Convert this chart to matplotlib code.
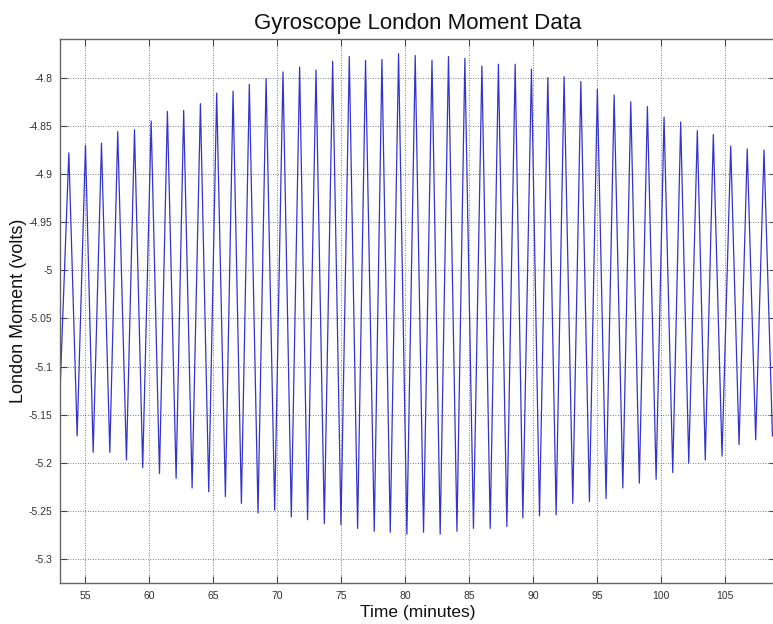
import matplotlib
matplotlib.use("Agg")
import matplotlib.pyplot as plt
import numpy as np

# Times (minutes) and voltages of each oscillation crest
peak_time = [53.73, 55.03, 56.28, 57.55, 58.86, 60.16, 61.43, 62.70, 64.01, 65.28,
             66.56, 67.83, 69.14, 70.46, 71.76, 73.04, 74.34, 75.64, 76.91, 78.19,
             79.49, 80.79, 82.10, 83.39, 84.67, 86.00, 87.29, 88.60, 89.87, 91.15,
             92.42, 93.73, 95.02, 96.33, 97.63, 98.93, 100.23, 101.53, 102.83, 104.08,
             105.44, 106.73, 108.04]
peak_volts = [-4.878, -4.870, -4.868, -4.856, -4.854, -4.845, -4.835, -4.834, -4.827, -4.816,
              -4.814, -4.807, -4.801, -4.794, -4.789, -4.792, -4.783, -4.778, -4.782, -4.781,
              -4.775, -4.777, -4.782, -4.778, -4.780, -4.788, -4.786, -4.786, -4.791, -4.800,
              -4.799, -4.804, -4.812, -4.818, -4.825, -4.830, -4.841, -4.846, -4.855, -4.859,
              -4.871, -4.874, -4.875]

# Times (minutes) and voltages of each oscillation trough
trough_time = [54.38, 55.63, 56.93, 58.23, 59.50, 60.81, 62.11, 63.36, 64.66, 65.96,
               67.21, 68.51, 69.81, 71.11, 72.38, 73.69, 74.99, 76.29, 77.59, 78.84,
               80.14, 81.44, 82.74, 84.05, 85.34, 86.65, 87.95, 89.20, 90.50, 91.80,
               93.10, 94.40, 95.70, 97.01, 98.30, 99.61, 100.91, 102.16, 103.45, 104.76,
               106.09, 107.39]
trough_volts = [-5.172, -5.189, -5.189, -5.197, -5.205, -5.211, -5.216, -5.226, -5.230, -5.235,
                -5.242, -5.252, -5.249, -5.256, -5.259, -5.263, -5.264, -5.268, -5.271, -5.272,
                -5.274, -5.272, -5.274, -5.271, -5.268, -5.268, -5.266, -5.257, -5.255, -5.254,
                -5.242, -5.240, -5.237, -5.226, -5.221, -5.217, -5.210, -5.200, -5.197, -5.193,
                -5.181, -5.176]

# First and last recorded samples of the trace
start_sample = (53.0, -5.140)
end_sample = (108.7, -5.172)

x_ticks = [55, 60, 65, 70, 75, 80, 85, 90, 95, 100, 105]
y_ticks = [-5.3, -5.25, -5.2, -5.15, -5.1, -5.05, -5.0, -4.95, -4.9, -4.85, -4.8]
y_ticklabels = ["-5.3", "-5.25", "-5.2", "-5.15", "-5.1", "-5.05", "-5", "-4.95",
                "-4.9", "-4.85", "-4.8"]

# Interleave crests and troughs in time order
t = [start_sample[0]]
v = [start_sample[1]]
for i in range(len(peak_time)):
    t.append(peak_time[i]); v.append(peak_volts[i])
    if i < len(trough_time):
        t.append(trough_time[i]); v.append(trough_volts[i])
t.append(end_sample[0]); v.append(end_sample[1])

plt.rcParams['font.family'] = ['Liberation Sans', 'DejaVu Sans']

fig = plt.figure(figsize=(7.73, 6.24), dpi=100)
W, H = 773, 624
left, right, top, bottom = 59.5, 776.3, 38.5, 582.7
ax = fig.add_axes([left / W, 1 - bottom / H, (right - left) / W, (bottom - top) / H])

ax.plot(t, v, color='#3434cc', linewidth=0.9)

ax.set_xlim(53, 109)
ax.set_ylim(-5.3244, -4.7593)
ax.set_xticks(x_ticks)
ax.set_yticks(y_ticks)
ax.set_yticklabels(y_ticklabels)

ax.grid(True, linestyle=(0, (1, 2)), color='#555555', linewidth=0.6)
ax.tick_params(direction='in', length=5, width=0.8, color='#444444',
               labelsize=7.5, labelcolor='#333333', top=True, right=True)
ax.tick_params(axis='y', pad=5)
ax.tick_params(axis='x', pad=6)
for s in ax.spines.values():
    s.set_color('#666666')
    s.set_linewidth(1.0)

ax.set_title("Gyroscope London Moment Data", fontsize=16, color='#111111', pad=7)
ax.set_xlabel("Time (minutes)", fontsize=12.5, color='#111111', labelpad=3)
ax.set_ylabel("London Moment (volts)", fontsize=13, color='#111111')
ax.yaxis.set_label_coords(-0.046, 0.5)

fig.savefig("out.png", dpi=100)
